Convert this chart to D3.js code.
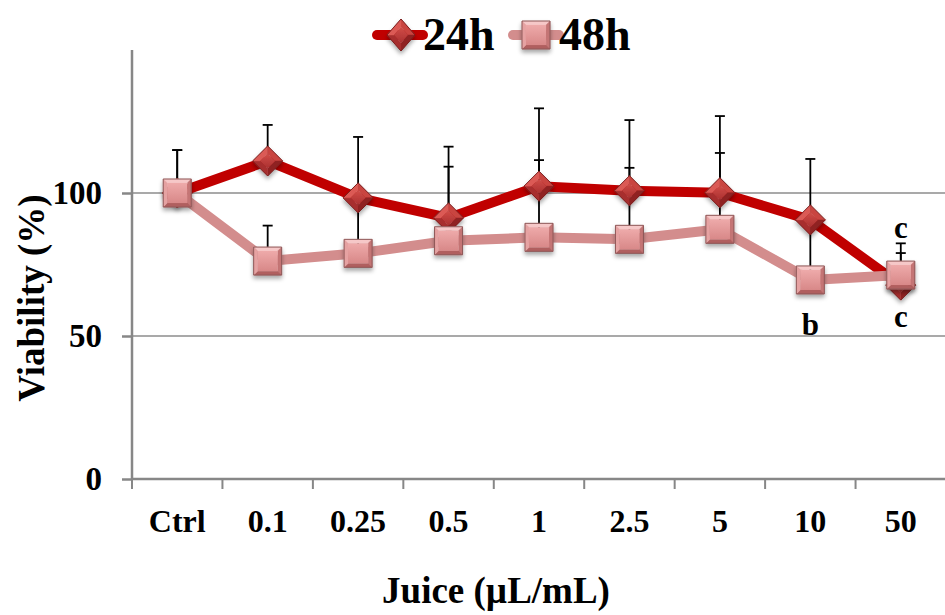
<!DOCTYPE html>
<html>
<head>
<meta charset="utf-8">
<script src="https://cdn.jsdelivr.net/npm/d3@7/dist/d3.min.js"></script>
<style>
  html, body { margin: 0; padding: 0; background: #fff; }
  svg { display: block; }
  text { font-family: "Liberation Serif", "Times New Roman", serif; font-weight: bold; fill: #000; }
</style>
</head>
<body>
<svg id="chart" width="945" height="615"></svg>
<script>
// Juice concentrations (µL/mL) tested against the untreated control
const categories = ["Ctrl", "0.1", "0.25", "0.5", "1", "2.5", "5", "10", "50"];

// Mean viability (%) and upper standard deviation after 24 h
const mean24 = [100, 111.2, 98.3, 91.3, 102.4, 100.8, 100.1, 90.6, 67.8];
const err24  = [15.0, 12.6, 21.3, 24.9, 27.2, 24.7, 26.8, 21.3, 11.2];

// Mean viability (%) and upper standard deviation after 48 h
const mean48 = [100, 76.2, 78.9, 83.3, 84.5, 83.8, 87.3, 69.6, 71.3];
const err48  = [15.0, 12.4, 19.0, 25.9, 27.0, 25.0, 26.7, 20.0, 11.1];

// Value axis ticks
const yTicks = [0, 50, 100];

// Significance letters: category, series, letter, placement
const sigCategories = ["10", "50", "50"];
const sigSeries     = ["48h", "24h", "48h"];
const sigLetters    = ["b", "c", "c"];
const sigPlacement  = ["below", "below", "above"];

const seriesNames = ["24h", "48h"];

const svg = d3.select("#chart");
const W = 945, H = 615;
const plot = { left: 132, right: 946, top: 50, bottom: 479 };

const x = d3.scaleBand().domain(categories).range([plot.left, plot.right]).padding(0);
const y = d3.scaleLinear().domain([0, 150]).range([plot.bottom, plot.top]);
const cx = c => x(c) + x.bandwidth() / 2;

const AXIS = "#878787";
const RED = "#c00000";
const PINK = "#d38d8d";

// ---------- defs: gradients and marker shadow ----------
const defs = svg.append("defs");
const shadow = defs.append("filter").attr("id", "shadow")
  .attr("x", "-50%").attr("y", "-50%").attr("width", "200%").attr("height", "200%");
shadow.append("feDropShadow").attr("dx", 0).attr("dy", 3).attr("stdDeviation", 2)
  .attr("flood-color", "#000").attr("flood-opacity", 0.35);

function vGrad(id, top, bottom) {
  const g = defs.append("linearGradient").attr("id", id)
    .attr("x1", 0).attr("y1", 0).attr("x2", 0).attr("y2", 1);
  g.append("stop").attr("offset", "0%").attr("stop-color", top);
  g.append("stop").attr("offset", "100%").attr("stop-color", bottom);
}
vGrad("diamondCore", "#d24d48", "#aa3030");
vGrad("squareCore", "#eeaaaa", "#d88888");

// ---------- bevelled marker drawing ----------
const lineGen = d3.line();
function bevel(g, pts, k, faces, coreFill, stroke) {
  const c = [d3.mean(pts, p => p[0]), d3.mean(pts, p => p[1])];
  const inner = pts.map(p => [c[0] + (p[0] - c[0]) * k, c[1] + (p[1] - c[1]) * k]);
  const quads = pts.map((p, i) => {
    const j = (i + 1) % pts.length;
    return [p, pts[j], inner[j], inner[i]];
  });
  g.selectAll("path.face").data(quads).join("path").attr("class", "face")
    .attr("d", q => lineGen(q) + "Z")
    .attr("fill", (q, i) => faces[i]).attr("stroke", (q, i) => faces[i]).attr("stroke-width", 0.4);
  g.append("path").attr("d", lineGen(inner) + "Z").attr("fill", coreFill);
  g.append("path").attr("d", lineGen(pts) + "Z").attr("fill", "none")
    .attr("stroke", stroke).attr("stroke-width", 1);
}
function diamond(g, px, py, hw, hh) {
  const pts = [[px, py - hh], [px + hw, py], [px, py + hh], [px - hw, py]];
  // faces: top-right, bottom-right, bottom-left, top-left
  bevel(g, pts, 0.5, ["#c94440", "#8f2222", "#a72f2f", "#db5a55"], "url(#diamondCore)", "#7a1e1e");
}
function square(g, px, py, h) {
  const pts = [[px - h, py - h], [px + h, py - h], [px + h, py + h], [px - h, py + h]];
  // faces: top, right, bottom, left
  bevel(g, pts, 0.72, ["#f6c8c8", "#c47474", "#b05f5f", "#e6a2a2"], "url(#squareCore)", "#8e5858");
}

// ---------- gridlines ----------
svg.append("g").selectAll("line").data(yTicks.filter(t => t > 0)).join("line")
  .attr("x1", plot.left).attr("x2", W)
  .attr("y1", d => y(d)).attr("y2", d => y(d))
  .attr("stroke", "#8c8c8c").attr("stroke-width", 1.5);

// ---------- axes ----------
const yAxis = svg.append("g").attr("transform", `translate(${plot.left},0)`)
  .call(d3.axisLeft(y).tickValues(yTicks).tickSize(10).tickPadding(20).tickFormat(d3.format("d")));
yAxis.select(".domain").attr("d", `M0,${plot.top}V${plot.bottom}`);
yAxis.selectAll(".domain, .tick line").attr("stroke", AXIS).attr("stroke-width", 2.5);
yAxis.selectAll(".tick text").style("font-size", "33px").attr("dy", "0.33em");

const xAxis = svg.append("g").attr("transform", `translate(0,${plot.bottom})`)
  .call(d3.axisBottom(x).tickSize(0).tickPadding(0));
xAxis.select(".domain").attr("d", `M${plot.left},0H${plot.right}`)
  .attr("stroke", AXIS).attr("stroke-width", 2.5);
xAxis.selectAll(".tick text").style("font-size", "32px").attr("y", 53).attr("dy", 0);
// category boundary ticks
const bounds = categories.map(c => x(c)).concat([plot.right]);
xAxis.append("g").selectAll("line").data(bounds).join("line")
  .attr("x1", d => d).attr("x2", d => d).attr("y1", 0).attr("y2", 10)
  .attr("stroke", AXIS).attr("stroke-width", 2);

// ---------- error bars (upper only) ----------
function errorBars(means, errs) {
  const g = svg.append("g").attr("stroke", "#000").attr("stroke-width", 1.8);
  categories.forEach((c, i) => {
    const top = y(means[i] + errs[i]);
    g.append("line").attr("x1", cx(c)).attr("x2", cx(c)).attr("y1", y(means[i])).attr("y2", top);
    g.append("line").attr("x1", cx(c) - 5).attr("x2", cx(c) + 5).attr("y1", top).attr("y2", top);
  });
}
errorBars(mean24, err24);
errorBars(mean48, err48);

// ---------- series ----------
const seriesLine = d3.line().x(d => cx(d.c)).y(d => y(d.v));
const pts24 = categories.map((c, i) => ({ c, v: mean24[i] }));
const pts48 = categories.map((c, i) => ({ c, v: mean48[i] }));

svg.append("path").datum(pts24).attr("d", seriesLine)
  .attr("fill", "none").attr("stroke", RED).attr("stroke-width", 10).attr("stroke-linejoin", "round");
const m24 = svg.append("g").attr("filter", "url(#shadow)");
pts24.forEach(d => diamond(m24.append("g"), cx(d.c), y(d.v), 15, 15));

svg.append("path").datum(pts48).attr("d", seriesLine)
  .attr("fill", "none").attr("stroke", PINK).attr("stroke-width", 10).attr("stroke-linejoin", "round");
const m48 = svg.append("g").attr("filter", "url(#shadow)");
pts48.forEach(d => square(m48.append("g"), cx(d.c), y(d.v), 14));

// ---------- significance letters ----------
sigLetters.forEach((L, i) => {
  const c = sigCategories[i];
  const idx = categories.indexOf(c);
  const is48 = sigSeries[i] === "48h";
  const mean = is48 ? mean48[idx] : mean24[idx];
  const err = is48 ? err48[idx] : err24[idx];
  const by = sigPlacement[i] === "above" ? y(mean + err) - 5 : y(mean) + (is48 ? 55 : 42);
  svg.append("text").attr("x", cx(c)).attr("y", by).attr("text-anchor", "middle")
    .style("font-size", "31px").text(L);
});

// ---------- axis titles ----------
svg.append("text").attr("x", 496).attr("y", 603).attr("text-anchor", "middle")
  .style("font-size", "37px").text("Juice (\u00b5L/mL)");
svg.append("text").attr("transform", "translate(44,298) rotate(-90)").attr("text-anchor", "middle")
  .style("font-size", "37px").text("Viability (%)");

// ---------- legend ----------
const leg = svg.append("g");
const legItems = [
  { name: seriesNames[0], x0: 377, color: RED, kind: "diamond" },
  { name: seriesNames[1], x0: 513, color: PINK, kind: "square" }
];
legItems.forEach(it => {
  leg.append("line").attr("x1", it.x0).attr("x2", it.x0 + 46).attr("y1", 35).attr("y2", 35)
    .attr("stroke", it.color).attr("stroke-width", 10).attr("stroke-linecap", "round");
  const mg = leg.append("g").attr("filter", "url(#shadow)");
  if (it.kind === "diamond") diamond(mg, it.x0 + 24, 35, 14, 16);
  else square(mg, it.x0 + 23, 35, 14);
  leg.append("text").attr("x", it.x0 + 46).attr("y", 50).style("font-size", "46px").text(it.name);
});
</script>
</body>
</html>
